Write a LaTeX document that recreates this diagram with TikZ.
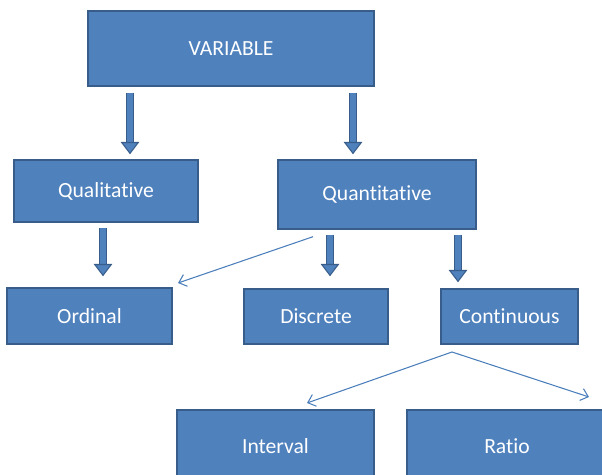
\documentclass[tikz,border=0pt]{standalone}
\usepackage{fontspec}
\setmainfont{Carlito}[Ligatures=NoCommon]
\usetikzlibrary{arrows.meta}
\definecolor{boxblue}{HTML}{4F81BD}
\definecolor{edgeblue}{HTML}{385D8A}
\definecolor{linkblue}{HTML}{4A7EBB}
\begin{document}
\begin{tikzpicture}[
    x=0.02cm, y=-0.02cm,
    box/.style={rectangle, draw=edgeblue, line width=0.8pt, fill=boxblue, text=white, font=\fontsize{12.3}{14}\selectfont, inner sep=0pt},
    blockarrow/.style={draw=edgeblue, line width=0.6pt, double=boxblue, double distance=3.4pt, -{Triangle[width=10.5pt,length=7pt,fill=boxblue]}},
    thinarrow/.style={->, draw=linkblue, line width=0.6pt, >={Straight Barb[length=4pt,width=7pt]}}
]
\useasboundingbox (0,0) rectangle (602,475);
% Top level
\node[box, minimum width=286*0.02cm, minimum height=75*0.02cm] (var) at (231,48.5) {VARIABLE};
% Second level
\node[box, minimum width=184*0.02cm, minimum height=62*0.02cm] (qual) at (106,191) {Qualitative};
\node[box, minimum width=198*0.02cm, minimum height=69*0.02cm] (quant) at (377,194.5) {Quantitative};
% Third level
\node[box, minimum width=165*0.02cm, minimum height=56*0.02cm] (ordinal) at (89.5,316) {Ordinal};
\node[box, minimum width=144*0.02cm, minimum height=55*0.02cm] (discrete) at (316,316.5) {Discrete};
\node[box, minimum width=137*0.02cm, minimum height=55*0.02cm] (continuous) at (509.5,316.5) {Continuous};
% Bottom level
\node[box, minimum width=197*0.02cm, minimum height=72*0.02cm] (interval) at (275.5,446) {Interval};
\node[box, minimum width=200*0.02cm, minimum height=72*0.02cm] (ratio) at (507,446) {Ratio};

% Block arrows
\draw[blockarrow] ([yshift=-0.12cm]var.south -| 130,0) -- ([yshift=0.1cm]qual.north -| 130,0);
\draw[blockarrow] ([yshift=-0.12cm]var.south -| 353,0) -- ([yshift=0.1cm]quant.north -| 353,0);
\draw[blockarrow] ([yshift=-0.1cm]qual.south -| 103,0) -- ([yshift=0.22cm]ordinal.north -| 103,0);
\draw[blockarrow] ([yshift=-0.1cm]quant.south -| 330,0) -- ([yshift=0.24cm]discrete.north -| 330,0);
\draw[blockarrow] ([yshift=-0.1cm]quant.south -| 458,0) -- ([yshift=0.12cm]continuous.north -| 458,0);

% Thin arrows
\coordinate (ordtip) at (178,283);
\coordinate (split) at (452,352);
\coordinate (inttip) at (307,403);
\coordinate (ratiotip) at (589,397);
\draw[thinarrow] ([yshift=-0.14cm]quant.south -| 313,0) -- (ordtip);
\draw[thinarrow] (split) -- (inttip);
\draw[thinarrow] (split) -- (ratiotip);
\end{tikzpicture}
\end{document}
